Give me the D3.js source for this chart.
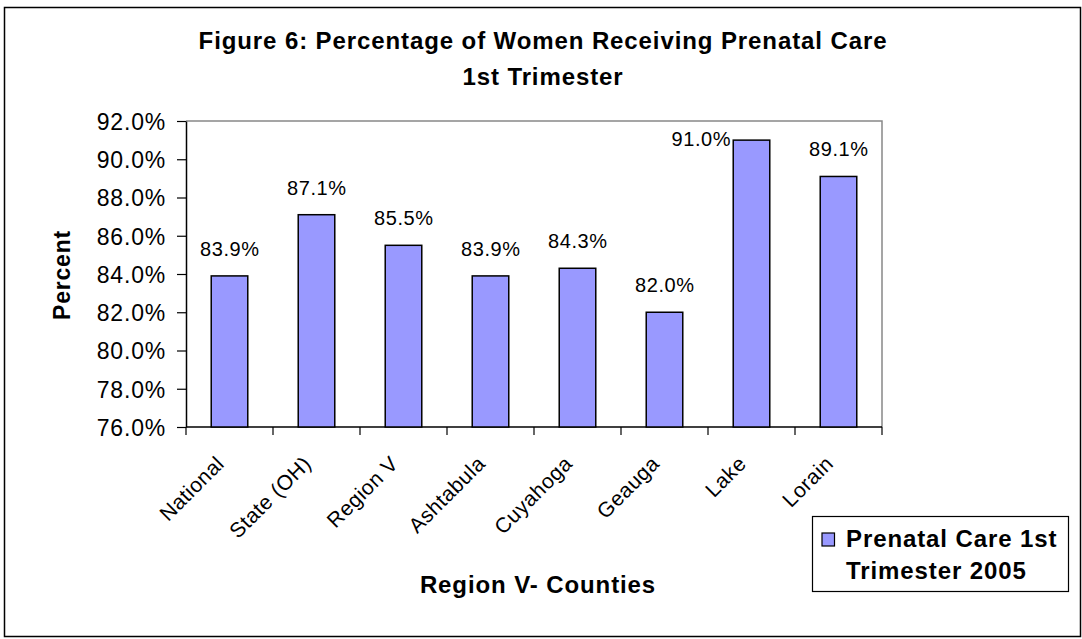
<!DOCTYPE html>
<html>
<head>
<meta charset="utf-8">
<script src="https://cdn.jsdelivr.net/npm/d3@7"></script>
<style>
  body { margin: 0; background: #fff; }
  text { font-family: Arial, "Liberation Sans", sans-serif; }
</style>
</head>
<body>
<svg width="1082" height="639"></svg>
<script>
// data
const categories = ["National", "State (OH)", "Region V", "Ashtabula", "Cuyahoga", "Geauga", "Lake", "Lorain"];
const values = [83.9, 87.1, 85.5, 83.9, 84.3, 82.0, 91.0, 89.1];
const yTicks = [76, 78, 80, 82, 84, 86, 88, 90, 92];
const seriesName = ["Prenatal Care 1st", "Trimester 2005"];

let svg = d3.select('svg');

// outer chart border
svg.append('rect')
    .attr('x', 4.5).attr('y', 7.5)
    .attr('width', 1076).attr('height', 629)
    .attr('fill', '#fff')
    .attr('stroke', '#000')
    .attr('stroke-width', 1.5);

const plot = { left: 186, top: 121, right: 882, bottom: 427 };

let xScale = d3.scaleBand()
    .domain(categories)
    .range([plot.left, plot.right])
    .paddingInner(0.58)
    .paddingOuter(0.29);

let xTickScale = d3.scaleBand()
    .domain(categories)
    .range([plot.left, plot.right]);

let yScale = d3.scaleLinear()
    .domain([76, 92])
    .range([plot.bottom, plot.top]);

// plot area frame (grey top / right)
svg.append('path')
    .attr('d', `M${plot.left},${plot.top}H${plot.right}V${plot.bottom}`)
    .attr('fill', 'none')
    .attr('stroke', '#888')
    .attr('stroke-width', 1.5);

// y axis
let yAxis = svg.append('g')
    .attr('transform', `translate(${plot.left},0)`)
    .call(d3.axisLeft(yScale).tickValues(yTicks).tickSize(9).tickSizeOuter(0)
        .tickFormat(d => d.toFixed(1) + '%'));
yAxis.select('.domain').attr('stroke', '#000').attr('stroke-width', 1.5);
yAxis.selectAll('.tick line').attr('stroke', '#000').attr('stroke-width', 1.2);
yAxis.selectAll('.tick text')
    .attr('font-size', '23px')
    .attr('letter-spacing', '0.8px')
    .attr('fill', '#000')
    .attr('x', -20)
    .attr('dy', '0.36em')
    .style('font-family', 'Arial, "Liberation Sans", sans-serif');

// x axis with ticks between categories
let xAxisG = svg.append('g');
xAxisG.append('line')
    .attr('x1', plot.left).attr('x2', plot.right)
    .attr('y1', plot.bottom).attr('y2', plot.bottom)
    .attr('stroke', '#000').attr('stroke-width', 1.5);
let tickPos = categories.map(c => xTickScale(c)).concat([plot.right]);
xAxisG.selectAll('line.tk')
    .data(tickPos)
    .enter()
    .append('line')
    .attr('class', 'tk')
    .attr('x1', d => d).attr('x2', d => d)
    .attr('y1', plot.bottom).attr('y2', plot.bottom + 8)
    .attr('stroke', '#000').attr('stroke-width', 1.2);

xAxisG.selectAll('text.cat')
    .data(categories)
    .enter()
    .append('text')
    .attr('class', 'cat')
    .attr('text-anchor', 'end')
    .attr('font-size', '21px')
    .attr('letter-spacing', '0.5px')
    .attr('fill', '#000')
    .attr('transform', d => {
        let cx = xScale(d) + xScale.bandwidth() / 2 - 4;
        return `translate(${cx}, ${plot.bottom + 38}) rotate(-45)`;
    })
    .text(d => d);

// bars
svg.selectAll('rect.bar')
    .data(values)
    .enter()
    .append('rect')
    .attr('class', 'bar')
    .attr('x', (d, i) => xScale(categories[i]))
    .attr('y', d => yScale(d))
    .attr('width', xScale.bandwidth())
    .attr('height', d => plot.bottom - yScale(d))
    .attr('fill', '#9999FF')
    .attr('stroke', '#000')
    .attr('stroke-width', 1.5);

// data labels
svg.selectAll('text.lbl')
    .data(values)
    .enter()
    .append('text')
    .attr('class', 'lbl')
    .attr('font-size', '20px')
    .attr('letter-spacing', '0.6px')
    .attr('fill', '#000')
    .each(function(d, i) {
        let x0 = xScale(categories[i]);
        let yTop = yScale(d);
        let t = d3.select(this);
        if (yTop - 20 - 16 < plot.top) {
            // no room above the bar, so it goes to the left of it
            t.attr('x', x0 - 2).attr('y', yTop + 6).attr('text-anchor', 'end');
        } else {
            t.attr('x', x0 + xScale.bandwidth() / 2 + 0.3).attr('y', yTop - 20).attr('text-anchor', 'middle');
        }
    })
    .text(d => d.toFixed(1) + '%');

// titles
const title = svg.append('text')
    .attr('x', 543).attr('y', 49)
    .attr('text-anchor', 'middle')
    .attr('font-size', '24px')
    .attr('letter-spacing', '0.9px')
    .attr('font-weight', 'bold');
title.append('tspan').attr('x', 543).text('Figure 6: Percentage of Women Receiving Prenatal Care');
title.append('tspan').attr('x', 543).attr('dy', 36).text('1st Trimester');

svg.append('text')
    .attr('transform', `translate(70, 275) rotate(-90)`)
    .attr('text-anchor', 'middle')
    .attr('font-size', '23px')
    .attr('letter-spacing', '0.8px')
    .attr('font-weight', 'bold')
    .text('Percent');

svg.append('text')
    .attr('x', 538).attr('y', 593)
    .attr('text-anchor', 'middle')
    .attr('font-size', '24px')
    .attr('letter-spacing', '0.9px')
    .attr('font-weight', 'bold')
    .text('Region V- Counties');

// legend
let legend = svg.append('g');
legend.append('rect')
    .attr('x', 812.5).attr('y', 516.5)
    .attr('width', 256).attr('height', 75)
    .attr('fill', '#fff')
    .attr('stroke', '#000')
    .attr('stroke-width', 1.2);
legend.append('rect')
    .attr('x', 822).attr('y', 533)
    .attr('width', 12.5).attr('height', 13)
    .attr('fill', '#9999FF')
    .attr('stroke', '#000')
    .attr('stroke-width', 1.2);
legend.selectAll('text.leg')
    .data(seriesName)
    .enter()
    .append('text')
    .attr('class', 'leg')
    .attr('x', 846)
    .attr('y', (d, i) => 547 + i * 31.5)
    .attr('font-size', '24px')
    .attr('letter-spacing', '0.9px')
    .attr('font-weight', 'bold')
    .text(d => d);
</script>
</body>
</html>
